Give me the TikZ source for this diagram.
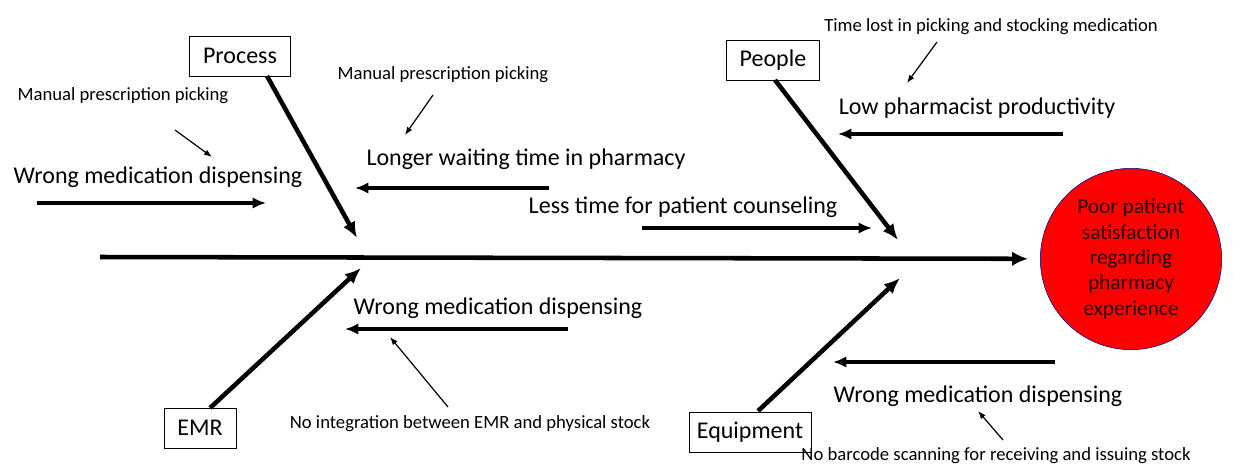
\documentclass[tikz,border=0pt]{standalone}
\usepackage{fontspec}
\setmainfont{Carlito}
\usetikzlibrary{positioning}
\usetikzlibrary{shapes.geometric}
\usetikzlibrary{arrows.meta}

\begin{document}
\begin{tikzpicture}
[x=0.75pt,y=-0.75pt,
 cat/.style={shape=rectangle,draw,thin,inner xsep=10pt,minimum height=30pt,font=\fontsize{18}{20}\selectfont},
 effect/.style={shape=circle,fill=red,draw=blue!50!black,thin,minimum size=136pt,align=center,text=black!85!red,font=\fontsize{16}{19}\selectfont},
 cause/.style={font=\fontsize{18}{20}\selectfont,inner sep=0pt},
 note/.style={font=\fontsize{14}{16}\selectfont,inner sep=0pt},
 spine/.style={line width=3.4pt,-{Latex[length=12pt,width=11pt]}},
 bone/.style={line width=3.4pt,-{Latex[length=12pt,width=10pt]}},
 twig/.style={line width=2.6pt,-{Latex[length=10pt,width=8.5pt]}},
 hint/.style={line width=0.9pt,-{Latex[length=6pt,width=4.5pt]}}]

\useasboundingbox (0,0) rectangle (1260,468);

% effect and spine
\draw (1131,259) node (eff) [effect] {Poor patient\\satisfaction\\regarding\\pharmacy\\experience};
\coordinate (tail) at (100,257);
\draw [spine,shorten >=9pt] (tail) -- (eff);

% categories
\draw (240,56) node (proc) [cat] {Process};
\draw (773,60) node (ppl) [cat] {People};
\draw (200,428) node (emr) [cat] {EMR};
\draw (750,432) node (equip) [cat,inner xsep=6pt] {Equipment};

\coordinate (proc-in) at (267,76);   \coordinate (proc-hd) at (357,238);
\coordinate (ppl-in) at (775,80);    \coordinate (ppl-hd) at (898,240);
\coordinate (emr-in) at (210,408);   \coordinate (emr-hd) at (361,268);
\coordinate (equip-in) at (758,411); \coordinate (equip-hd) at (900,278);

\draw [bone] (proc-in) -- (proc-hd);
\draw [bone] (ppl-in) -- (ppl-hd);
\draw [bone] (emr-in) -- (emr-hd);
\draw [bone] (equip-in) -- (equip-hd);

% causes
\draw (158,177) node (c1) [cause] {Wrong medication dispensing};
\draw (526,159) node (c2) [cause] {Longer waiting time in pharmacy};
\draw (683,207) node (c3) [cause] {Less time for patient counseling};
\draw (977,108) node (c4) [cause] {Low pharmacist productivity};
\draw (498,308) node (c5) [cause] {Wrong medication dispensing};
\draw (978,396) node (c6) [cause] {Wrong medication dispensing};

\coordinate (c1-a) at (37,203);   \coordinate (c1-b) at (266,203);
\coordinate (c2-a) at (549,188);  \coordinate (c2-b) at (355,188);
\coordinate (c3-a) at (642,228);  \coordinate (c3-b) at (872,228);
\coordinate (c4-a) at (1063,134); \coordinate (c4-b) at (838,134);
\coordinate (c5-a) at (568,329);  \coordinate (c5-b) at (345,329);
\coordinate (c6-a) at (1055,362); \coordinate (c6-b) at (833,362);

\draw [twig] (c1-a) -- (c1-b);
\draw [twig] (c2-a) -- (c2-b);
\draw [twig] (c3-a) -- (c3-b);
\draw [twig] (c4-a) -- (c4-b);
\draw [twig] (c5-a) -- (c5-b);
\draw [twig] (c6-a) -- (c6-b);

% sub causes
\draw (123,96) node (n1) [note] {Manual prescription picking};
\draw (443,75) node (n2) [note] {Manual prescription picking};
\draw (991,27) node (n3) [note] {Time lost in picking and stocking medication};
\draw (470,424) node (n4) [note] {No integration between EMR and physical stock};
\draw (996,456) node (n5) [note] {No barcode scanning for receiving and issuing stock};

\coordinate (n1-a) at (175,130);  \coordinate (n1-b) at (212,157);
\coordinate (n2-a) at (433,95);   \coordinate (n2-b) at (405,135);
\coordinate (n3-a) at (937,42);   \coordinate (n3-b) at (907,83);
\coordinate (n4-a) at (448,407);  \coordinate (n4-b) at (390,337);
\coordinate (n5-a) at (1003,440); \coordinate (n5-b) at (978,411);

\draw [hint] (n1-a) -- (n1-b);
\draw [hint] (n2-a) -- (n2-b);
\draw [hint] (n3-a) -- (n3-b);
\draw [hint] (n4-a) -- (n4-b);
\draw [hint] (n5-a) -- (n5-b);

\end{tikzpicture}
\end{document}
